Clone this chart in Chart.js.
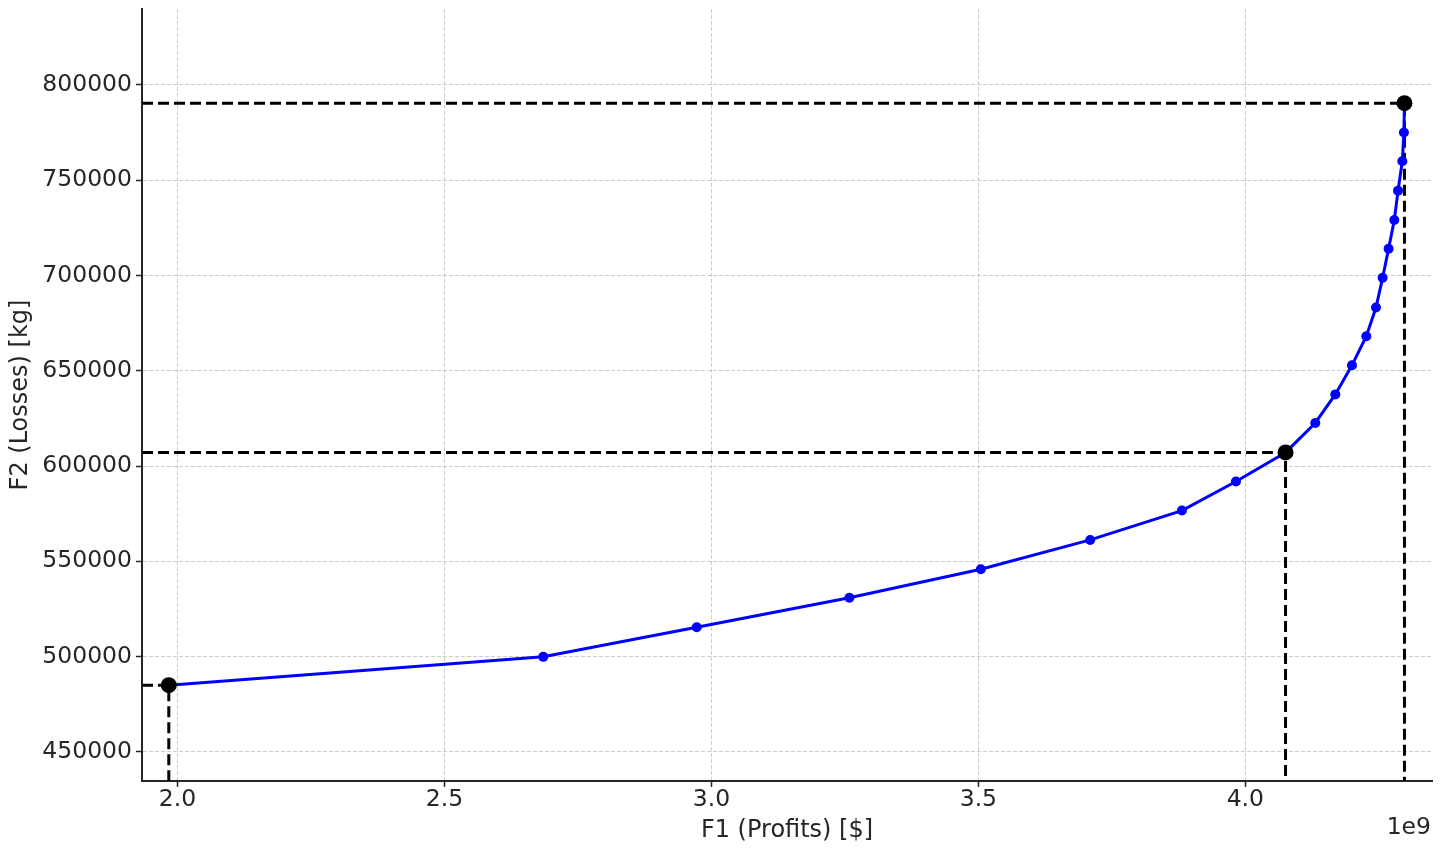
<!DOCTYPE html>
<html><head><meta charset="utf-8">
<script src="https://cdn.jsdelivr.net/npm/chart.js@4.4.1/dist/chart.umd.min.js"></script>
<style>html,body{margin:0;padding:0;background:#fff;}#wrap{width:1441px;height:850px;}</style>
</head><body><div id="wrap"><canvas id="c" width="1441" height="850"></canvas></div>
<script>
// Pareto front: F1 profits ($) vs F2 losses (kg)
const profits = [1.9837e9, 2.685e9, 2.9725e9, 3.2584e9, 3.5046e9, 3.7094e9, 3.8812e9, 3.9824e9, 4.0753e9, 4.1310e9, 4.1685e9, 4.1997e9, 4.2266e9, 4.2447e9, 4.2571e9, 4.2683e9, 4.2790e9, 4.2860e9, 4.2940e9, 4.2970e9, 4.2980e9];
const losses = [485050, 499900, 515400, 530900, 545850, 561250, 576650, 591900, 607150, 622600, 637600, 652850, 668100, 683200, 698800, 714000, 729050, 744500, 759900, 775000, 790400];
const highlightIdx = [0, 8, 20];
const xTicks = [2.0e9, 2.5e9, 3.0e9, 3.5e9, 4.0e9];
const yTicks = [450000, 500000, 550000, 600000, 650000, 700000, 750000, 800000];
const xRange = [1.9335e9, 4.3496e9];
const yRange = [434760, 839800];
const xTitle = 'F1 (Profits) [$]';
const yTitle = 'F2 (Losses) [kg]';
const offsetText = '1e9';

const FONT = 'DejaVu Sans';
const TXT = '#262626';

const pts = profits.map((x, i) => ({x, y: losses[i]}));
const guideSets = highlightIdx.map(i => ({
  type: 'line',
  data: [{x: xRange[0], y: losses[i]}, {x: profits[i], y: losses[i]}, {x: profits[i], y: yRange[0]}],
  borderColor: '#000', borderWidth: 3, borderDash: [11, 5],
  pointRadius: 0, fill: false, tension: 0, order: 2
}));

const offsetPlugin = {
  id: 'offsetText',
  afterDraw(chart) {
    const ctx = chart.ctx;
    ctx.save();
    ctx.font = '23.5px "' + FONT + '"';
    ctx.fillStyle = TXT;
    ctx.textAlign = 'right';
    ctx.textBaseline = 'middle';
    ctx.fillText(offsetText, chart.chartArea.right - 1, 828);
    ctx.restore();
  }
};

new Chart(document.getElementById('c'), {
  type: 'line',
  data: {
    datasets: [
      {
        data: highlightIdx.map(i => pts[i]),
        showLine: false, pointRadius: 8, pointHoverRadius: 8,
        pointBackgroundColor: '#000', pointBorderColor: '#000', pointBorderWidth: 0, order: 0
      },
      {
        data: pts, borderColor: '#0000ff', borderWidth: 3, tension: 0,
        pointRadius: 5, pointBackgroundColor: '#0000ff', pointBorderColor: '#0000ff', pointBorderWidth: 0, order: 1
      },
      ...guideSets
    ]
  },
  options: {
    responsive: false, animation: false, devicePixelRatio: 1,
    layout: {padding: {top: 9, right: 9, left: 0, bottom: 0}},
    plugins: {legend: {display: false}, tooltip: {enabled: false}},
    scales: {
      x: {
        type: 'linear', position: 'bottom', min: xRange[0], max: xRange[1],
        afterBuildTicks: s => { s.ticks = xTicks.map(v => ({value: v})); },
        afterFit: s => { s.height = 69; s.paddingLeft = 0; s.paddingRight = 0; },
        ticks: {callback: v => (v / 1e9).toFixed(1), font: {family: FONT, size: 23.5}, color: TXT, padding: -1, maxRotation: 0, autoSkip: false},
        grid: {color: '#cccccc', lineWidth: 1, tickColor: TXT, tickWidth: 1.5, tickLength: 6},
        border: {display: true, color: TXT, width: 2, dash: [4, 2]},
        title: {display: true, text: xTitle, font: {family: FONT, size: 24}, color: TXT, padding: {top: 0, bottom: 5}}
      },
      y: {
        type: 'linear', position: 'left', min: yRange[0], max: yRange[1],
        afterBuildTicks: s => { s.ticks = yTicks.map(v => ({value: v})); },
        afterFit: s => { s.width = 142; s.paddingTop = 0; s.paddingBottom = 0; },
        ticks: {callback: v => String(v), font: {family: FONT, size: 23.5}, color: TXT, padding: 4, autoSkip: false},
        grid: {color: '#cccccc', lineWidth: 1, tickColor: TXT, tickWidth: 1.5, tickLength: 6},
        border: {display: true, color: TXT, width: 2, dash: [4, 2]},
        title: {display: true, text: yTitle, font: {family: FONT, size: 24}, color: TXT, padding: {top: 6, bottom: 0}}
      }
    }
  },
  plugins: [offsetPlugin]
});
</script></body></html>
